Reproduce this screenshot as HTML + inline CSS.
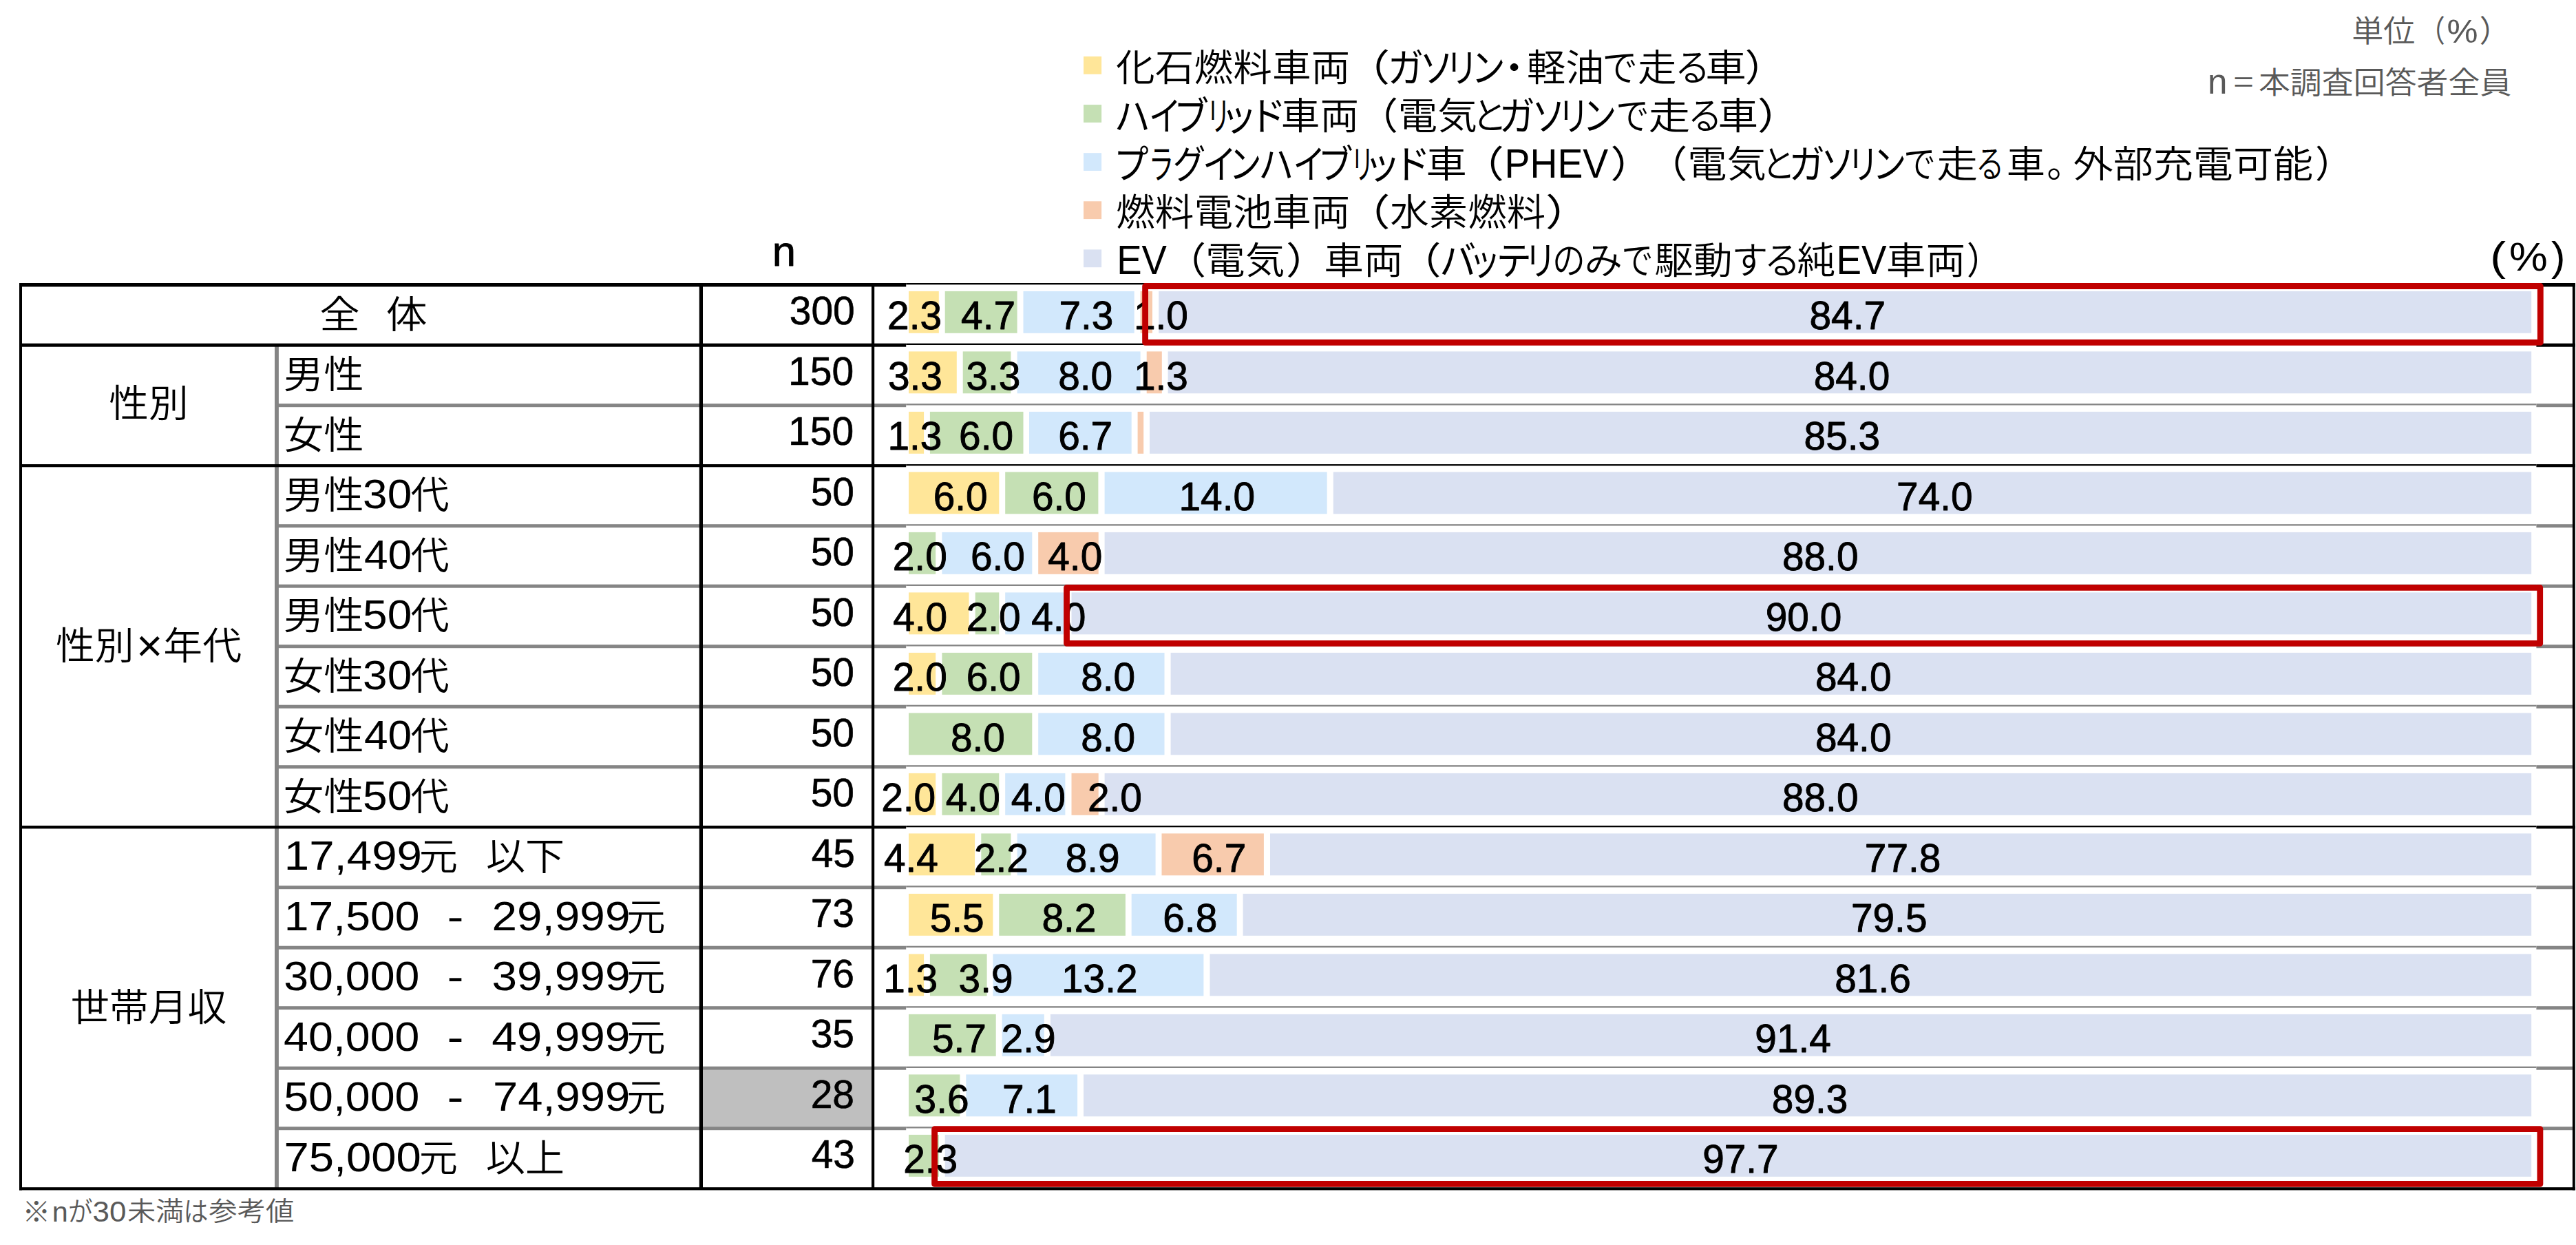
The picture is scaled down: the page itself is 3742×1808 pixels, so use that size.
<!DOCTYPE html>
<html lang="ja"><head><meta charset="utf-8"><title>chart</title>
<style>
html,body{margin:0;padding:0;background:#fff}
body{width:3742px;height:1808px;overflow:hidden}
svg{display:block}
text{font-family:"Liberation Sans","Noto Sans CJK JP",sans-serif;white-space:pre}
</style></head><body>
<svg width="3742" height="1808" viewBox="0 0 3742 1808">
<rect x="0" y="0" width="3742" height="1808" fill="#fff"/>
<g id="shapes">
<rect x="1020.60" y="1553.40" width="245.60" height="83.10" fill="#BFBFBF"/>
<rect x="1320.00" y="422.90" width="43.80" height="60.90" fill="#FFE699"/>
<rect x="1372.70" y="422.90" width="104.90" height="60.90" fill="#C5E0B4"/>
<rect x="1486.50" y="422.90" width="161.20" height="60.90" fill="#D2E8FC"/>
<rect x="1656.60" y="422.90" width="17.40" height="60.90" fill="#F8CBAD"/>
<rect x="1683.20" y="422.90" width="1994.00" height="60.90" fill="#DAE1F2"/>
<rect x="1320.00" y="510.40" width="69.80" height="60.90" fill="#FFE699"/>
<rect x="1398.70" y="510.40" width="69.70" height="60.90" fill="#C5E0B4"/>
<rect x="1477.60" y="510.40" width="179.00" height="60.90" fill="#D2E8FC"/>
<rect x="1665.70" y="510.40" width="22.10" height="60.90" fill="#F8CBAD"/>
<rect x="1696.60" y="510.40" width="1980.60" height="60.90" fill="#DAE1F2"/>
<rect x="1320.00" y="597.90" width="22.10" height="60.90" fill="#FFE699"/>
<rect x="1350.90" y="597.90" width="135.60" height="60.90" fill="#C5E0B4"/>
<rect x="1495.00" y="597.90" width="148.70" height="60.90" fill="#D2E8FC"/>
<rect x="1652.60" y="597.90" width="8.60" height="60.90" fill="#F8CBAD"/>
<rect x="1670.00" y="597.90" width="2007.20" height="60.90" fill="#DAE1F2"/>
<rect x="1320.00" y="685.40" width="131.30" height="60.90" fill="#FFE699"/>
<rect x="1460.20" y="685.40" width="135.20" height="60.90" fill="#C5E0B4"/>
<rect x="1604.60" y="685.40" width="323.10" height="60.90" fill="#D2E8FC"/>
<rect x="1936.80" y="685.40" width="1740.40" height="60.90" fill="#DAE1F2"/>
<rect x="1320.00" y="772.90" width="39.20" height="60.90" fill="#C5E0B4"/>
<rect x="1368.40" y="772.90" width="130.90" height="60.90" fill="#D2E8FC"/>
<rect x="1508.20" y="772.90" width="87.50" height="60.90" fill="#F8CBAD"/>
<rect x="1604.60" y="772.90" width="2072.60" height="60.90" fill="#DAE1F2"/>
<rect x="1320.00" y="860.40" width="87.50" height="60.90" fill="#FFE699"/>
<rect x="1416.70" y="860.40" width="34.60" height="60.90" fill="#C5E0B4"/>
<rect x="1460.20" y="860.40" width="87.20" height="60.90" fill="#D2E8FC"/>
<rect x="1556.50" y="860.40" width="2120.70" height="60.90" fill="#DAE1F2"/>
<rect x="1320.00" y="947.90" width="39.20" height="60.90" fill="#FFE699"/>
<rect x="1368.40" y="947.90" width="130.90" height="60.90" fill="#C5E0B4"/>
<rect x="1508.20" y="947.90" width="183.30" height="60.90" fill="#D2E8FC"/>
<rect x="1700.60" y="947.90" width="1976.60" height="60.90" fill="#DAE1F2"/>
<rect x="1320.00" y="1035.40" width="179.30" height="60.90" fill="#C5E0B4"/>
<rect x="1508.20" y="1035.40" width="183.30" height="60.90" fill="#D2E8FC"/>
<rect x="1700.60" y="1035.40" width="1976.60" height="60.90" fill="#DAE1F2"/>
<rect x="1320.00" y="1122.90" width="39.20" height="60.90" fill="#FFE699"/>
<rect x="1368.40" y="1122.90" width="82.90" height="60.90" fill="#C5E0B4"/>
<rect x="1460.20" y="1122.90" width="87.20" height="60.90" fill="#D2E8FC"/>
<rect x="1556.50" y="1122.90" width="39.20" height="60.90" fill="#F8CBAD"/>
<rect x="1604.60" y="1122.90" width="2072.60" height="60.90" fill="#DAE1F2"/>
<rect x="1320.00" y="1210.40" width="96.10" height="60.90" fill="#FFE699"/>
<rect x="1425.30" y="1210.40" width="43.10" height="60.90" fill="#C5E0B4"/>
<rect x="1477.60" y="1210.40" width="201.00" height="60.90" fill="#D2E8FC"/>
<rect x="1687.50" y="1210.40" width="148.40" height="60.90" fill="#F8CBAD"/>
<rect x="1845.00" y="1210.40" width="1832.20" height="60.90" fill="#DAE1F2"/>
<rect x="1320.00" y="1297.90" width="122.40" height="60.90" fill="#FFE699"/>
<rect x="1451.30" y="1297.90" width="183.60" height="60.90" fill="#C5E0B4"/>
<rect x="1643.70" y="1297.90" width="153.00" height="60.90" fill="#D2E8FC"/>
<rect x="1805.60" y="1297.90" width="1871.60" height="60.90" fill="#DAE1F2"/>
<rect x="1320.00" y="1385.40" width="22.10" height="60.90" fill="#FFE699"/>
<rect x="1350.90" y="1385.40" width="82.70" height="60.90" fill="#C5E0B4"/>
<rect x="1442.40" y="1385.40" width="306.00" height="60.90" fill="#D2E8FC"/>
<rect x="1757.50" y="1385.40" width="1919.70" height="60.90" fill="#DAE1F2"/>
<rect x="1320.00" y="1472.90" width="126.70" height="60.90" fill="#C5E0B4"/>
<rect x="1455.60" y="1472.90" width="61.20" height="60.90" fill="#D2E8FC"/>
<rect x="1525.90" y="1472.90" width="2151.30" height="60.90" fill="#DAE1F2"/>
<rect x="1320.00" y="1560.40" width="74.40" height="60.90" fill="#C5E0B4"/>
<rect x="1403.30" y="1560.40" width="161.80" height="60.90" fill="#D2E8FC"/>
<rect x="1574.00" y="1560.40" width="2103.20" height="60.90" fill="#DAE1F2"/>
<rect x="1320.00" y="1647.90" width="43.90" height="60.90" fill="#C5E0B4"/>
<rect x="1372.70" y="1647.90" width="2304.50" height="60.90" fill="#DAE1F2"/>
<rect x="399.00" y="586.20" width="917.20" height="5.00" fill="#858585"/>
<rect x="1316.20" y="586.20" width="2368.20" height="2.30" fill="#858585"/>
<rect x="3684.40" y="586.20" width="52.50" height="5.00" fill="#858585"/>
<rect x="399.00" y="761.20" width="917.20" height="5.00" fill="#858585"/>
<rect x="1316.20" y="761.20" width="2368.20" height="2.30" fill="#858585"/>
<rect x="3684.40" y="761.20" width="52.50" height="5.00" fill="#858585"/>
<rect x="399.00" y="848.70" width="917.20" height="5.00" fill="#858585"/>
<rect x="1316.20" y="848.70" width="2368.20" height="2.30" fill="#858585"/>
<rect x="3684.40" y="848.70" width="52.50" height="5.00" fill="#858585"/>
<rect x="399.00" y="936.20" width="917.20" height="5.00" fill="#858585"/>
<rect x="1316.20" y="936.20" width="2368.20" height="2.30" fill="#858585"/>
<rect x="3684.40" y="936.20" width="52.50" height="5.00" fill="#858585"/>
<rect x="399.00" y="1023.70" width="917.20" height="5.00" fill="#858585"/>
<rect x="1316.20" y="1023.70" width="2368.20" height="2.30" fill="#858585"/>
<rect x="3684.40" y="1023.70" width="52.50" height="5.00" fill="#858585"/>
<rect x="399.00" y="1111.20" width="917.20" height="5.00" fill="#858585"/>
<rect x="1316.20" y="1111.20" width="2368.20" height="2.30" fill="#858585"/>
<rect x="3684.40" y="1111.20" width="52.50" height="5.00" fill="#858585"/>
<rect x="399.00" y="1286.20" width="917.20" height="5.00" fill="#858585"/>
<rect x="1316.20" y="1286.20" width="2368.20" height="2.30" fill="#858585"/>
<rect x="3684.40" y="1286.20" width="52.50" height="5.00" fill="#858585"/>
<rect x="399.00" y="1373.70" width="917.20" height="5.00" fill="#858585"/>
<rect x="1316.20" y="1373.70" width="2368.20" height="2.30" fill="#858585"/>
<rect x="3684.40" y="1373.70" width="52.50" height="5.00" fill="#858585"/>
<rect x="399.00" y="1461.20" width="917.20" height="5.00" fill="#858585"/>
<rect x="1316.20" y="1461.20" width="2368.20" height="2.30" fill="#858585"/>
<rect x="3684.40" y="1461.20" width="52.50" height="5.00" fill="#858585"/>
<rect x="399.00" y="1548.70" width="917.20" height="5.00" fill="#858585"/>
<rect x="1316.20" y="1548.70" width="2368.20" height="2.30" fill="#858585"/>
<rect x="3684.40" y="1548.70" width="52.50" height="5.00" fill="#858585"/>
<rect x="399.00" y="1636.20" width="917.20" height="5.00" fill="#858585"/>
<rect x="1316.20" y="1636.20" width="2368.20" height="2.30" fill="#858585"/>
<rect x="3684.40" y="1636.20" width="52.50" height="5.00" fill="#858585"/>
<rect x="399.00" y="501.20" width="5.90" height="1225.00" fill="#858585"/>
<rect x="28.00" y="411.00" width="1288.20" height="5.40" fill="#000"/>
<rect x="1316.20" y="411.00" width="2368.20" height="2.30" fill="#000"/>
<rect x="3684.40" y="411.00" width="56.40" height="5.40" fill="#000"/>
<rect x="28.00" y="498.70" width="1288.20" height="5.00" fill="#000"/>
<rect x="1316.20" y="498.70" width="2368.20" height="2.30" fill="#000"/>
<rect x="3684.40" y="498.70" width="56.40" height="5.00" fill="#000"/>
<rect x="28.00" y="674.10" width="1288.20" height="4.20" fill="#000"/>
<rect x="1316.20" y="674.10" width="2368.20" height="2.30" fill="#000"/>
<rect x="3684.40" y="674.10" width="56.40" height="4.20" fill="#000"/>
<rect x="28.00" y="1199.00" width="1288.20" height="4.40" fill="#000"/>
<rect x="1316.20" y="1199.00" width="2368.20" height="2.30" fill="#000"/>
<rect x="3684.40" y="1199.00" width="56.40" height="4.40" fill="#000"/>
<rect x="28.00" y="1724.20" width="3712.80" height="4.20" fill="#000"/>
<rect x="28.00" y="411.10" width="4.00" height="1317.30" fill="#000"/>
<rect x="3736.90" y="411.10" width="3.90" height="1317.30" fill="#000"/>
<rect x="1015.80" y="413.70" width="5.20" height="1312.50" fill="#000"/>
<rect x="1266.00" y="413.70" width="4.20" height="1312.50" fill="#000"/>
<rect x="1574.00" y="82.00" width="26.10" height="25.80" fill="#FFE699"/>
<rect x="1574.00" y="152.10" width="26.10" height="25.80" fill="#C5E0B4"/>
<rect x="1574.00" y="222.20" width="26.10" height="25.80" fill="#D2E8FC"/>
<rect x="1574.00" y="292.30" width="26.10" height="25.80" fill="#F8CBAD"/>
<rect x="1574.00" y="362.40" width="26.10" height="25.80" fill="#DAE1F2"/>
</g>
<g id="texts" font-weight="350">
<text id="t0" x="1289.08" y="478.20" font-size="56.80" fill="#000" stroke="#000" stroke-width="0.90" stroke-linejoin="round">2.3</text>
<text id="t1" x="1396.08" y="478.20" font-size="56.80" fill="#000" stroke="#000" stroke-width="0.90" stroke-linejoin="round">4.7</text>
<text id="t2" x="1538.38" y="478.20" font-size="56.80" fill="#000" stroke="#000" stroke-width="0.90" stroke-linejoin="round">7.3</text>
<text id="t3" x="1647.00" y="478.20" font-size="56.80" fill="#000" stroke="#000" stroke-width="0.90" stroke-linejoin="round">1.0</text>
<text id="t4" x="2628.48" y="478.20" font-size="56.80" fill="#000" stroke="#000" stroke-width="0.90" stroke-linejoin="round">84.7</text>
<text id="t5" x="1289.88" y="565.70" font-size="56.80" fill="#000" stroke="#000" stroke-width="0.90" stroke-linejoin="round">3.3</text>
<text id="t6" x="1403.38" y="565.70" font-size="56.80" fill="#000" stroke="#000" stroke-width="0.90" stroke-linejoin="round">3.3</text>
<text id="t7" x="1537.18" y="565.70" font-size="56.80" fill="#000" stroke="#000" stroke-width="0.90" stroke-linejoin="round">8.0</text>
<text id="t8" x="1647.00" y="565.70" font-size="56.80" fill="#000" stroke="#000" stroke-width="0.90" stroke-linejoin="round">1.3</text>
<text id="t9" x="2634.68" y="565.70" font-size="56.80" fill="#000" stroke="#000" stroke-width="0.90" stroke-linejoin="round">84.0</text>
<text id="t10" x="1289.40" y="653.20" font-size="56.80" fill="#000" stroke="#000" stroke-width="0.90" stroke-linejoin="round">1.3</text>
<text id="t11" x="1393.08" y="653.20" font-size="56.80" fill="#000" stroke="#000" stroke-width="0.90" stroke-linejoin="round">6.0</text>
<text id="t12" x="1537.18" y="653.20" font-size="56.80" fill="#000" stroke="#000" stroke-width="0.90" stroke-linejoin="round">6.7</text>
<text id="t13" x="2620.58" y="653.20" font-size="56.80" fill="#000" stroke="#000" stroke-width="0.90" stroke-linejoin="round">85.3</text>
<text id="t14" x="1355.68" y="740.70" font-size="56.80" fill="#000" stroke="#000" stroke-width="0.90" stroke-linejoin="round">6.0</text>
<text id="t15" x="1498.88" y="740.70" font-size="56.80" fill="#000" stroke="#000" stroke-width="0.90" stroke-linejoin="round">6.0</text>
<text id="t16" x="1712.50" y="740.70" font-size="56.80" fill="#000" stroke="#000" stroke-width="0.90" stroke-linejoin="round">14.0</text>
<text id="t17" x="2755.08" y="740.70" font-size="56.80" fill="#000" stroke="#000" stroke-width="0.90" stroke-linejoin="round">74.0</text>
<text id="t18" x="1296.78" y="828.20" font-size="56.80" fill="#000" stroke="#000" stroke-width="0.90" stroke-linejoin="round">2.0</text>
<text id="t19" x="1409.88" y="828.20" font-size="56.80" fill="#000" stroke="#000" stroke-width="0.90" stroke-linejoin="round">6.0</text>
<text id="t20" x="1522.28" y="828.20" font-size="56.80" fill="#000" stroke="#000" stroke-width="0.90" stroke-linejoin="round">4.0</text>
<text id="t21" x="2588.95" y="828.20" font-size="56.80" fill="#000" stroke="#000" stroke-width="0.90" stroke-linejoin="round">88.0</text>
<text id="t22" x="1297.18" y="915.70" font-size="56.80" fill="#000" stroke="#000" stroke-width="0.90" stroke-linejoin="round">4.0</text>
<text id="t23" x="1403.68" y="915.70" font-size="56.80" fill="#000" stroke="#000" stroke-width="0.90" stroke-linejoin="round">2.0</text>
<text id="t24" x="1498.28" y="915.70" font-size="56.80" fill="#000" stroke="#000" stroke-width="0.90" stroke-linejoin="round">4.0</text>
<text id="t25" x="2564.75" y="915.70" font-size="56.80" fill="#000" stroke="#000" stroke-width="0.90" stroke-linejoin="round">90.0</text>
<text id="t26" x="1296.78" y="1003.20" font-size="56.80" fill="#000" stroke="#000" stroke-width="0.90" stroke-linejoin="round">2.0</text>
<text id="t27" x="1403.68" y="1003.20" font-size="56.80" fill="#000" stroke="#000" stroke-width="0.90" stroke-linejoin="round">6.0</text>
<text id="t28" x="1570.18" y="1003.20" font-size="56.80" fill="#000" stroke="#000" stroke-width="0.90" stroke-linejoin="round">8.0</text>
<text id="t29" x="2636.95" y="1003.20" font-size="56.80" fill="#000" stroke="#000" stroke-width="0.90" stroke-linejoin="round">84.0</text>
<text id="t30" x="1380.88" y="1090.70" font-size="56.80" fill="#000" stroke="#000" stroke-width="0.90" stroke-linejoin="round">8.0</text>
<text id="t31" x="1570.18" y="1090.70" font-size="56.80" fill="#000" stroke="#000" stroke-width="0.90" stroke-linejoin="round">8.0</text>
<text id="t32" x="2636.95" y="1090.70" font-size="56.80" fill="#000" stroke="#000" stroke-width="0.90" stroke-linejoin="round">84.0</text>
<text id="t33" x="1280.18" y="1178.20" font-size="56.80" fill="#000" stroke="#000" stroke-width="0.90" stroke-linejoin="round">2.0</text>
<text id="t34" x="1373.78" y="1178.20" font-size="56.80" fill="#000" stroke="#000" stroke-width="0.90" stroke-linejoin="round">4.0</text>
<text id="t35" x="1468.78" y="1178.20" font-size="56.80" fill="#000" stroke="#000" stroke-width="0.90" stroke-linejoin="round">4.0</text>
<text id="t36" x="1579.88" y="1178.20" font-size="56.80" fill="#000" stroke="#000" stroke-width="0.90" stroke-linejoin="round">2.0</text>
<text id="t37" x="2588.95" y="1178.20" font-size="56.80" fill="#000" stroke="#000" stroke-width="0.90" stroke-linejoin="round">88.0</text>
<text id="t38" x="1283.98" y="1265.70" font-size="56.80" fill="#000" stroke="#000" stroke-width="0.90" stroke-linejoin="round">4.4</text>
<text id="t39" x="1414.98" y="1265.70" font-size="56.80" fill="#000" stroke="#000" stroke-width="0.90" stroke-linejoin="round">2.2</text>
<text id="t40" x="1547.68" y="1265.70" font-size="56.80" fill="#000" stroke="#000" stroke-width="0.90" stroke-linejoin="round">8.9</text>
<text id="t41" x="1731.28" y="1265.70" font-size="56.80" fill="#000" stroke="#000" stroke-width="0.90" stroke-linejoin="round">6.7</text>
<text id="t42" x="2708.85" y="1265.70" font-size="56.80" fill="#000" stroke="#000" stroke-width="0.90" stroke-linejoin="round">77.8</text>
<text id="t43" x="1350.68" y="1353.20" font-size="56.80" fill="#000" stroke="#000" stroke-width="0.90" stroke-linejoin="round">5.5</text>
<text id="t44" x="1513.48" y="1353.20" font-size="56.80" fill="#000" stroke="#000" stroke-width="0.90" stroke-linejoin="round">8.2</text>
<text id="t45" x="1689.28" y="1353.20" font-size="56.80" fill="#000" stroke="#000" stroke-width="0.90" stroke-linejoin="round">6.8</text>
<text id="t46" x="2688.95" y="1353.20" font-size="56.80" fill="#000" stroke="#000" stroke-width="0.90" stroke-linejoin="round">79.5</text>
<text id="t47" x="1283.20" y="1440.70" font-size="56.80" fill="#000" stroke="#000" stroke-width="0.90" stroke-linejoin="round">1.3</text>
<text id="t48" x="1392.58" y="1440.70" font-size="56.80" fill="#000" stroke="#000" stroke-width="0.90" stroke-linejoin="round">3.9</text>
<text id="t49" x="1542.00" y="1440.70" font-size="56.80" fill="#000" stroke="#000" stroke-width="0.90" stroke-linejoin="round">13.2</text>
<text id="t50" x="2665.25" y="1440.70" font-size="56.80" fill="#000" stroke="#000" stroke-width="0.90" stroke-linejoin="round">81.6</text>
<text id="t51" x="1353.88" y="1528.20" font-size="56.80" fill="#000" stroke="#000" stroke-width="0.90" stroke-linejoin="round">5.7</text>
<text id="t52" x="1454.58" y="1528.20" font-size="56.80" fill="#000" stroke="#000" stroke-width="0.90" stroke-linejoin="round">2.9</text>
<text id="t53" x="2549.35" y="1528.20" font-size="56.80" fill="#000" stroke="#000" stroke-width="0.90" stroke-linejoin="round">91.4</text>
<text id="t54" x="1328.58" y="1615.70" font-size="56.80" fill="#000" stroke="#000" stroke-width="0.90" stroke-linejoin="round">3.6</text>
<text id="t55" x="1456.00" y="1615.70" font-size="56.80" fill="#000" stroke="#000" stroke-width="0.90" stroke-linejoin="round">7.1</text>
<text id="t56" x="2573.85" y="1615.70" font-size="56.80" fill="#000" stroke="#000" stroke-width="0.90" stroke-linejoin="round">89.3</text>
<text id="t57" x="1312.18" y="1703.20" font-size="56.80" fill="#000" stroke="#000" stroke-width="0.90" stroke-linejoin="round">2.3</text>
<text id="t58" x="2473.15" y="1703.20" font-size="56.80" fill="#000" stroke="#000" stroke-width="0.90" stroke-linejoin="round">97.7</text>
<text id="t59" x="1146.72" y="471.20" font-size="57.00" fill="#000" stroke="#000" stroke-width="0.60" stroke-linejoin="round">300</text>
<text id="t60" x="1145.02" y="558.70" font-size="57.00" fill="#000" stroke="#000" stroke-width="0.60" stroke-linejoin="round">150</text>
<text id="t61" x="1145.02" y="646.20" font-size="57.00" fill="#000" stroke="#000" stroke-width="0.60" stroke-linejoin="round">150</text>
<text id="t62" x="1177.63" y="733.70" font-size="57.00" fill="#000" stroke="#000" stroke-width="0.60" stroke-linejoin="round">50</text>
<text id="t63" x="1177.63" y="821.20" font-size="57.00" fill="#000" stroke="#000" stroke-width="0.60" stroke-linejoin="round">50</text>
<text id="t64" x="1177.63" y="908.70" font-size="57.00" fill="#000" stroke="#000" stroke-width="0.60" stroke-linejoin="round">50</text>
<text id="t65" x="1177.63" y="996.20" font-size="57.00" fill="#000" stroke="#000" stroke-width="0.60" stroke-linejoin="round">50</text>
<text id="t66" x="1177.63" y="1083.70" font-size="57.00" fill="#000" stroke="#000" stroke-width="0.60" stroke-linejoin="round">50</text>
<text id="t67" x="1177.63" y="1171.20" font-size="57.00" fill="#000" stroke="#000" stroke-width="0.60" stroke-linejoin="round">50</text>
<text id="t68" x="1178.63" y="1258.70" font-size="57.00" fill="#000" stroke="#000" stroke-width="0.60" stroke-linejoin="round">45</text>
<text id="t69" x="1177.63" y="1346.20" font-size="57.00" fill="#000" stroke="#000" stroke-width="0.60" stroke-linejoin="round">73</text>
<text id="t70" x="1177.63" y="1433.70" font-size="57.00" fill="#000" stroke="#000" stroke-width="0.60" stroke-linejoin="round">76</text>
<text id="t71" x="1177.63" y="1521.20" font-size="57.00" fill="#000" stroke="#000" stroke-width="0.60" stroke-linejoin="round">35</text>
<text id="t72" x="1177.63" y="1608.70" font-size="57.00" fill="#000" stroke="#000" stroke-width="0.60" stroke-linejoin="round">28</text>
<text id="t73" x="1178.63" y="1696.20" font-size="57.00" fill="#000" stroke="#000" stroke-width="0.60" stroke-linejoin="round">43</text>
<text id="t74" x="1121.86" y="386.00" font-size="61.00" fill="#000" stroke="#000" stroke-width="0.80" stroke-linejoin="round" textLength="34.22" lengthAdjust="spacingAndGlyphs">n</text>
<text><tspan id="t75" x="3617.32" y="392.60" font-size="59.50" fill="#000" textLength="22.81" lengthAdjust="spacingAndGlyphs">(</tspan><tspan id="t76" x="3645.09" y="392.80" font-size="58.00" fill="#000" textLength="55.80" lengthAdjust="spacingAndGlyphs">%</tspan><tspan id="t77" x="3705.99" y="392.60" font-size="59.50" fill="#000" textLength="20.44" lengthAdjust="spacingAndGlyphs">)</tspan></text>
<text><tspan id="t78" x="464.34" y="475.50" font-size="54.70" fill="#000" textLength="58.54" lengthAdjust="spacingAndGlyphs">全</tspan><tspan> </tspan><tspan id="t79" x="560.69" y="475.50" font-size="54.70" fill="#000" textLength="59.95" lengthAdjust="spacingAndGlyphs">体</tspan></text>
<text id="t80" x="411.88" y="563.00" font-size="54.70" fill="#000" textLength="116.98" lengthAdjust="spacingAndGlyphs">男性</text>
<text id="t81" x="411.88" y="650.50" font-size="54.70" fill="#000" textLength="116.98" lengthAdjust="spacingAndGlyphs">女性</text>
<text><tspan id="t82" x="411.88" y="738.00" font-size="54.70" fill="#000" textLength="116.98" lengthAdjust="spacingAndGlyphs">男性</tspan><tspan id="t83" x="527.04" y="738.30" font-size="58.50" fill="#000" textLength="71.20" lengthAdjust="spacingAndGlyphs">30</tspan><tspan id="t84" x="596.56" y="738.00" font-size="54.70" fill="#000" textLength="55.96" lengthAdjust="spacingAndGlyphs">代</tspan></text>
<text><tspan id="t85" x="411.88" y="825.50" font-size="54.70" fill="#000" textLength="116.98" lengthAdjust="spacingAndGlyphs">男性</tspan><tspan id="t86" x="529.03" y="825.80" font-size="58.50" fill="#000" textLength="69.13" lengthAdjust="spacingAndGlyphs">40</tspan><tspan id="t87" x="596.56" y="825.50" font-size="54.70" fill="#000" textLength="55.96" lengthAdjust="spacingAndGlyphs">代</tspan></text>
<text><tspan id="t88" x="411.88" y="913.00" font-size="54.70" fill="#000" textLength="116.98" lengthAdjust="spacingAndGlyphs">男性</tspan><tspan id="t89" x="527.04" y="913.30" font-size="58.50" fill="#000" textLength="71.20" lengthAdjust="spacingAndGlyphs">50</tspan><tspan id="t90" x="596.56" y="913.00" font-size="54.70" fill="#000" textLength="55.96" lengthAdjust="spacingAndGlyphs">代</tspan></text>
<text><tspan id="t91" x="411.88" y="1000.50" font-size="54.70" fill="#000" textLength="116.98" lengthAdjust="spacingAndGlyphs">女性</tspan><tspan id="t92" x="527.04" y="1000.80" font-size="58.50" fill="#000" textLength="71.20" lengthAdjust="spacingAndGlyphs">30</tspan><tspan id="t93" x="596.56" y="1000.50" font-size="54.70" fill="#000" textLength="55.96" lengthAdjust="spacingAndGlyphs">代</tspan></text>
<text><tspan id="t94" x="411.88" y="1088.00" font-size="54.70" fill="#000" textLength="116.98" lengthAdjust="spacingAndGlyphs">女性</tspan><tspan id="t95" x="529.03" y="1088.30" font-size="58.50" fill="#000" textLength="69.13" lengthAdjust="spacingAndGlyphs">40</tspan><tspan id="t96" x="596.56" y="1088.00" font-size="54.70" fill="#000" textLength="55.96" lengthAdjust="spacingAndGlyphs">代</tspan></text>
<text><tspan id="t97" x="411.88" y="1175.50" font-size="54.70" fill="#000" textLength="116.98" lengthAdjust="spacingAndGlyphs">女性</tspan><tspan id="t98" x="527.04" y="1175.80" font-size="58.50" fill="#000" textLength="71.20" lengthAdjust="spacingAndGlyphs">50</tspan><tspan id="t99" x="596.56" y="1175.50" font-size="54.70" fill="#000" textLength="55.96" lengthAdjust="spacingAndGlyphs">代</tspan></text>
<text><tspan id="t100" x="412.85" y="1263.30" font-size="58.50" fill="#000" textLength="200.08" lengthAdjust="spacingAndGlyphs">17,499</tspan><tspan id="t101" x="608.73" y="1263.00" font-size="54.70" fill="#000" textLength="56.12" lengthAdjust="spacingAndGlyphs">元</tspan><tspan> </tspan><tspan id="t102" x="705.90" y="1263.00" font-size="54.70" fill="#000" textLength="114.18" lengthAdjust="spacingAndGlyphs">以下</tspan></text>
<text><tspan id="t103" x="412.81" y="1350.80" font-size="58.50" fill="#000" textLength="196.65" lengthAdjust="spacingAndGlyphs">17,500</tspan><tspan> </tspan><tspan id="t104" x="649.54" y="1350.80" font-size="58.50" fill="#000" textLength="24.06" lengthAdjust="spacingAndGlyphs">-</tspan><tspan> </tspan><tspan id="t105" x="714.44" y="1350.80" font-size="58.50" fill="#000" textLength="201.01" lengthAdjust="spacingAndGlyphs">29,999</tspan><tspan id="t106" x="910.11" y="1350.50" font-size="54.70" fill="#000" textLength="56.68" lengthAdjust="spacingAndGlyphs">元</tspan></text>
<text><tspan id="t107" x="412.22" y="1438.30" font-size="58.50" fill="#000" textLength="197.23" lengthAdjust="spacingAndGlyphs">30,000</tspan><tspan> </tspan><tspan id="t108" x="649.54" y="1438.30" font-size="58.50" fill="#000" textLength="24.06" lengthAdjust="spacingAndGlyphs">-</tspan><tspan> </tspan><tspan id="t109" x="714.45" y="1438.30" font-size="58.50" fill="#000" textLength="201.01" lengthAdjust="spacingAndGlyphs">39,999</tspan><tspan id="t110" x="910.11" y="1438.00" font-size="54.70" fill="#000" textLength="56.68" lengthAdjust="spacingAndGlyphs">元</tspan></text>
<text><tspan id="t111" x="412.14" y="1525.80" font-size="58.50" fill="#000" textLength="197.34" lengthAdjust="spacingAndGlyphs">40,000</tspan><tspan> </tspan><tspan id="t112" x="649.54" y="1525.80" font-size="58.50" fill="#000" textLength="24.06" lengthAdjust="spacingAndGlyphs">-</tspan><tspan> </tspan><tspan id="t113" x="714.21" y="1525.80" font-size="58.50" fill="#000" textLength="201.18" lengthAdjust="spacingAndGlyphs">49,999</tspan><tspan id="t114" x="910.11" y="1525.50" font-size="54.70" fill="#000" textLength="56.68" lengthAdjust="spacingAndGlyphs">元</tspan></text>
<text><tspan id="t115" x="412.22" y="1613.30" font-size="58.50" fill="#000" textLength="197.23" lengthAdjust="spacingAndGlyphs">50,000</tspan><tspan> </tspan><tspan id="t116" x="649.54" y="1613.30" font-size="58.50" fill="#000" textLength="24.06" lengthAdjust="spacingAndGlyphs">-</tspan><tspan> </tspan><tspan id="t117" x="715.99" y="1613.30" font-size="58.50" fill="#000" textLength="199.33" lengthAdjust="spacingAndGlyphs">74,999</tspan><tspan id="t118" x="910.11" y="1613.00" font-size="54.70" fill="#000" textLength="56.68" lengthAdjust="spacingAndGlyphs">元</tspan></text>
<text><tspan id="t119" x="412.51" y="1700.80" font-size="58.50" fill="#000" textLength="199.32" lengthAdjust="spacingAndGlyphs">75,000</tspan><tspan id="t120" x="608.73" y="1700.50" font-size="54.70" fill="#000" textLength="56.12" lengthAdjust="spacingAndGlyphs">元</tspan><tspan> </tspan><tspan id="t121" x="705.88" y="1700.50" font-size="54.70" fill="#000" textLength="114.16" lengthAdjust="spacingAndGlyphs">以上</tspan></text>
<text id="t122" x="158.26" y="604.60" font-size="54.70" fill="#000" textLength="115.64" lengthAdjust="spacingAndGlyphs">性別</text>
<text><tspan id="t123" x="80.92" y="956.80" font-size="54.70" fill="#000" textLength="113.83" lengthAdjust="spacingAndGlyphs">性別</tspan><tspan id="t124" x="197.91" y="959.80" font-size="64.00" fill="#000" textLength="38.43" lengthAdjust="spacingAndGlyphs">×</tspan><tspan id="t125" x="237.39" y="956.80" font-size="54.70" fill="#000" textLength="113.62" lengthAdjust="spacingAndGlyphs">年代</tspan></text>
<text id="t126" x="102.44" y="1482.30" font-size="54.70" fill="#000" textLength="226.72" lengthAdjust="spacingAndGlyphs">世帯月収</text>
<text><tspan id="t127" x="1621.14" y="118.00" font-size="54.00" fill="#000" textLength="340.16" lengthAdjust="spacingAndGlyphs">化石燃料車両</tspan><tspan id="t128" x="1954.77" y="118.00" font-size="54.00" fill="#000" font-weight="400" textLength="64.39" lengthAdjust="spacingAndGlyphs">（</tspan><tspan id="t129" x="2016.05" y="119.00" font-size="57.24" fill="#000" font-weight="400" textLength="52.09" lengthAdjust="spacingAndGlyphs">ガ</tspan><tspan id="t130" x="2062.22" y="119.00" font-size="57.24" fill="#000" font-weight="400" textLength="49.32" lengthAdjust="spacingAndGlyphs">ソ</tspan><tspan id="t131" x="2099.61" y="119.00" font-size="57.24" fill="#000" font-weight="400" textLength="47.80" lengthAdjust="spacingAndGlyphs">リ</tspan><tspan id="t132" x="2137.58" y="119.00" font-size="57.24" fill="#000" font-weight="400" textLength="49.06" lengthAdjust="spacingAndGlyphs">ン</tspan><tspan id="t133" x="2171.41" y="118.00" font-size="54.00" fill="#000" textLength="56.17" lengthAdjust="spacingAndGlyphs">・</tspan><tspan id="t134" x="2218.10" y="118.00" font-size="54.00" fill="#000" textLength="112.46" lengthAdjust="spacingAndGlyphs">軽油</tspan><tspan id="t135" x="2327.61" y="118.00" font-size="54.00" fill="#000" textLength="51.50" lengthAdjust="spacingAndGlyphs">で</tspan><tspan id="t136" x="2379.01" y="118.00" font-size="54.00" fill="#000" textLength="56.61" lengthAdjust="spacingAndGlyphs">走</tspan><tspan id="t137" x="2432.75" y="118.00" font-size="54.00" fill="#000" textLength="51.59" lengthAdjust="spacingAndGlyphs">る</tspan><tspan id="t138" x="2477.31" y="118.00" font-size="54.00" fill="#000" textLength="59.58" lengthAdjust="spacingAndGlyphs">車</tspan><tspan id="t139" x="2534.66" y="118.00" font-size="54.00" fill="#000" font-weight="400" textLength="58.22" lengthAdjust="spacingAndGlyphs">）</tspan></text>
<text><tspan id="t140" x="1618.70" y="188.95" font-size="57.24" fill="#000" font-weight="400" textLength="52.01" lengthAdjust="spacingAndGlyphs">ハ</tspan><tspan id="t141" x="1668.84" y="188.95" font-size="57.24" fill="#000" font-weight="400" textLength="47.34" lengthAdjust="spacingAndGlyphs">イ</tspan><tspan id="t142" x="1705.01" y="188.95" font-size="57.24" fill="#000" font-weight="400" textLength="51.11" lengthAdjust="spacingAndGlyphs">ブ</tspan><tspan id="t143" x="1752.77" y="188.95" font-size="57.24" fill="#000" font-weight="400" textLength="34.54" lengthAdjust="spacingAndGlyphs">リ</tspan><tspan id="t144" x="1773.18" y="188.95" font-size="57.24" fill="#000" font-weight="400" textLength="53.04" lengthAdjust="spacingAndGlyphs">ッ</tspan><tspan id="t145" x="1814.60" y="188.95" font-size="57.24" fill="#000" font-weight="400" textLength="53.80" lengthAdjust="spacingAndGlyphs">ド</tspan><tspan id="t146" x="1860.84" y="187.95" font-size="54.00" fill="#000" textLength="113.18" lengthAdjust="spacingAndGlyphs">車両</tspan><tspan id="t147" x="1973.57" y="187.95" font-size="54.00" fill="#000" font-weight="400" textLength="57.46" lengthAdjust="spacingAndGlyphs">（</tspan><tspan id="t148" x="2030.62" y="187.95" font-size="54.00" fill="#000" textLength="115.38" lengthAdjust="spacingAndGlyphs">電気</tspan><tspan id="t149" x="2138.36" y="187.95" font-size="54.00" fill="#000" textLength="51.22" lengthAdjust="spacingAndGlyphs">と</tspan><tspan id="t150" x="2177.74" y="188.95" font-size="57.24" fill="#000" font-weight="400" textLength="52.09" lengthAdjust="spacingAndGlyphs">ガ</tspan><tspan id="t151" x="2224.97" y="188.95" font-size="57.24" fill="#000" font-weight="400" textLength="49.27" lengthAdjust="spacingAndGlyphs">ソ</tspan><tspan id="t152" x="2262.84" y="188.95" font-size="57.24" fill="#000" font-weight="400" textLength="45.81" lengthAdjust="spacingAndGlyphs">リ</tspan><tspan id="t153" x="2299.30" y="188.95" font-size="57.24" fill="#000" font-weight="400" textLength="49.02" lengthAdjust="spacingAndGlyphs">ン</tspan><tspan id="t154" x="2347.21" y="187.95" font-size="54.00" fill="#000" textLength="48.47" lengthAdjust="spacingAndGlyphs">で</tspan><tspan id="t155" x="2394.68" y="187.95" font-size="54.00" fill="#000" textLength="60.54" lengthAdjust="spacingAndGlyphs">走</tspan><tspan id="t156" x="2451.70" y="187.95" font-size="54.00" fill="#000" textLength="50.02" lengthAdjust="spacingAndGlyphs">る</tspan><tspan id="t157" x="2495.53" y="187.95" font-size="54.00" fill="#000" textLength="58.55" lengthAdjust="spacingAndGlyphs">車</tspan><tspan id="t158" x="2552.68" y="187.95" font-size="54.00" fill="#000" font-weight="400" textLength="62.97" lengthAdjust="spacingAndGlyphs">）</tspan></text>
<text><tspan id="t159" x="1617.75" y="258.90" font-size="57.24" fill="#000" font-weight="400" textLength="50.85" lengthAdjust="spacingAndGlyphs">プ</tspan><tspan id="t160" x="1668.84" y="258.90" font-size="57.24" fill="#000" font-weight="400" textLength="36.39" lengthAdjust="spacingAndGlyphs">ラ</tspan><tspan id="t161" x="1703.71" y="258.90" font-size="57.24" fill="#000" font-weight="400" textLength="47.46" lengthAdjust="spacingAndGlyphs">グ</tspan><tspan id="t162" x="1746.74" y="258.90" font-size="57.24" fill="#000" font-weight="400" textLength="49.64" lengthAdjust="spacingAndGlyphs">イ</tspan><tspan id="t163" x="1785.41" y="258.90" font-size="57.24" fill="#000" font-weight="400" textLength="47.06" lengthAdjust="spacingAndGlyphs">ン</tspan><tspan id="t164" x="1828.13" y="258.90" font-size="57.24" fill="#000" font-weight="400" textLength="50.92" lengthAdjust="spacingAndGlyphs">ハ</tspan><tspan id="t165" x="1878.28" y="258.90" font-size="57.24" fill="#000" font-weight="400" textLength="47.28" lengthAdjust="spacingAndGlyphs">イ</tspan><tspan id="t166" x="1914.43" y="258.90" font-size="57.24" fill="#000" font-weight="400" textLength="51.13" lengthAdjust="spacingAndGlyphs">ブ</tspan><tspan id="t167" x="1962.42" y="258.90" font-size="57.24" fill="#000" font-weight="400" textLength="33.18" lengthAdjust="spacingAndGlyphs">リ</tspan><tspan id="t168" x="1981.68" y="258.90" font-size="57.24" fill="#000" font-weight="400" textLength="52.96" lengthAdjust="spacingAndGlyphs">ッ</tspan><tspan id="t169" x="2024.13" y="258.90" font-size="57.24" fill="#000" font-weight="400" textLength="53.80" lengthAdjust="spacingAndGlyphs">ド</tspan><tspan id="t170" x="2071.49" y="257.90" font-size="54.00" fill="#000" textLength="59.27" lengthAdjust="spacingAndGlyphs">車</tspan><tspan id="t171" x="2122.19" y="257.90" font-size="54.00" fill="#000" font-weight="400" textLength="62.70" lengthAdjust="spacingAndGlyphs">（</tspan><tspan id="t172" x="2185.62" y="257.90" font-size="60.00" fill="#000" textLength="150.58" lengthAdjust="spacingAndGlyphs">PHEV</tspan><tspan id="t173" x="2339.21" y="257.90" font-size="54.00" fill="#000" font-weight="400" textLength="62.45" lengthAdjust="spacingAndGlyphs">）</tspan><tspan id="t174" x="2393.43" y="257.90" font-size="54.00" fill="#000" font-weight="400" textLength="57.73" lengthAdjust="spacingAndGlyphs">（</tspan><tspan id="t175" x="2451.25" y="257.90" font-size="54.00" fill="#000" textLength="114.54" lengthAdjust="spacingAndGlyphs">電気</tspan><tspan id="t176" x="2559.15" y="257.90" font-size="54.00" fill="#000" textLength="48.83" lengthAdjust="spacingAndGlyphs">と</tspan><tspan id="t177" x="2598.63" y="258.90" font-size="57.24" fill="#000" font-weight="400" textLength="52.09" lengthAdjust="spacingAndGlyphs">ガ</tspan><tspan id="t178" x="2645.10" y="258.90" font-size="57.24" fill="#000" font-weight="400" textLength="48.92" lengthAdjust="spacingAndGlyphs">ソ</tspan><tspan id="t179" x="2683.61" y="258.90" font-size="57.24" fill="#000" font-weight="400" textLength="45.76" lengthAdjust="spacingAndGlyphs">リ</tspan><tspan id="t180" x="2720.21" y="258.90" font-size="57.24" fill="#000" font-weight="400" textLength="49.04" lengthAdjust="spacingAndGlyphs">ン</tspan><tspan id="t181" x="2765.34" y="257.90" font-size="54.00" fill="#000" textLength="46.62" lengthAdjust="spacingAndGlyphs">で</tspan><tspan id="t182" x="2813.38" y="257.90" font-size="54.00" fill="#000" textLength="59.97" lengthAdjust="spacingAndGlyphs">走</tspan><tspan id="t183" x="2869.92" y="257.90" font-size="54.00" fill="#000" textLength="41.34" lengthAdjust="spacingAndGlyphs">る</tspan><tspan id="t184" x="2914.86" y="257.90" font-size="54.00" fill="#000" textLength="56.25" lengthAdjust="spacingAndGlyphs">車</tspan><tspan id="t185" x="2973.13" y="257.90" font-size="54.00" fill="#000" textLength="53.50" lengthAdjust="spacingAndGlyphs">。</tspan><tspan id="t186" x="3011.54" y="257.90" font-size="54.00" fill="#000" textLength="348.68" lengthAdjust="spacingAndGlyphs">外部充電可能</tspan><tspan id="t187" x="3362.95" y="257.90" font-size="54.00" fill="#000" font-weight="400" textLength="55.05" lengthAdjust="spacingAndGlyphs">）</tspan></text>
<text><tspan id="t188" x="1621.13" y="327.85" font-size="54.00" fill="#000" textLength="340.15" lengthAdjust="spacingAndGlyphs">燃料電池車両</tspan><tspan id="t189" x="1954.05" y="327.85" font-size="54.00" fill="#000" font-weight="400" textLength="65.61" lengthAdjust="spacingAndGlyphs">（</tspan><tspan id="t190" x="2019.34" y="327.85" font-size="54.00" fill="#000" textLength="225.82" lengthAdjust="spacingAndGlyphs">水素燃料</tspan><tspan id="t191" x="2244.66" y="327.85" font-size="54.00" fill="#000" font-weight="400" textLength="67.16" lengthAdjust="spacingAndGlyphs">）</tspan></text>
<text><tspan id="t192" x="1622.18" y="397.80" font-size="60.00" fill="#000" textLength="72.77" lengthAdjust="spacingAndGlyphs">EV</tspan><tspan id="t193" x="1694.67" y="397.80" font-size="54.00" fill="#000" font-weight="400" textLength="57.16" lengthAdjust="spacingAndGlyphs">（</tspan><tspan id="t194" x="1751.02" y="397.80" font-size="54.00" fill="#000" textLength="115.37" lengthAdjust="spacingAndGlyphs">電気</tspan><tspan id="t195" x="1867.90" y="397.80" font-size="54.00" fill="#000" font-weight="400" textLength="61.25" lengthAdjust="spacingAndGlyphs">）</tspan><tspan id="t196" x="1923.19" y="397.80" font-size="54.00" fill="#000" textLength="115.36" lengthAdjust="spacingAndGlyphs">車両</tspan><tspan id="t197" x="2033.02" y="397.80" font-size="54.00" fill="#000" font-weight="400" textLength="60.43" lengthAdjust="spacingAndGlyphs">（</tspan><tspan id="t198" x="2091.29" y="398.80" font-size="57.24" fill="#000" font-weight="400" textLength="53.04" lengthAdjust="spacingAndGlyphs">バ</tspan><tspan id="t199" x="2133.97" y="398.80" font-size="57.24" fill="#000" font-weight="400" textLength="45.86" lengthAdjust="spacingAndGlyphs">ッ</tspan><tspan id="t200" x="2173.70" y="398.80" font-size="57.24" fill="#000" font-weight="400" textLength="51.11" lengthAdjust="spacingAndGlyphs">テ</tspan><tspan id="t201" x="2214.15" y="398.80" font-size="57.24" fill="#000" font-weight="400" textLength="46.68" lengthAdjust="spacingAndGlyphs">リ</tspan><tspan id="t202" x="2255.08" y="397.80" font-size="54.00" fill="#000" textLength="47.84" lengthAdjust="spacingAndGlyphs">の</tspan><tspan id="t203" x="2301.49" y="397.80" font-size="54.00" fill="#000" textLength="55.31" lengthAdjust="spacingAndGlyphs">み</tspan><tspan id="t204" x="2355.62" y="397.80" font-size="54.00" fill="#000" textLength="46.17" lengthAdjust="spacingAndGlyphs">で</tspan><tspan id="t205" x="2403.22" y="397.80" font-size="54.00" fill="#000" textLength="113.40" lengthAdjust="spacingAndGlyphs">駆動</tspan><tspan id="t206" x="2515.47" y="397.80" font-size="54.00" fill="#000" textLength="52.84" lengthAdjust="spacingAndGlyphs">す</tspan><tspan id="t207" x="2562.38" y="397.80" font-size="54.00" fill="#000" textLength="52.98" lengthAdjust="spacingAndGlyphs">る</tspan><tspan id="t208" x="2610.56" y="397.80" font-size="54.00" fill="#000" textLength="55.79" lengthAdjust="spacingAndGlyphs">純</tspan><tspan id="t209" x="2667.46" y="397.80" font-size="60.00" fill="#000" textLength="73.08" lengthAdjust="spacingAndGlyphs">EV</tspan><tspan id="t210" x="2739.89" y="397.80" font-size="54.00" fill="#000" textLength="115.44" lengthAdjust="spacingAndGlyphs">車両</tspan><tspan id="t211" x="2857.00" y="397.80" font-size="54.00" fill="#000" font-weight="400" textLength="49.30" lengthAdjust="spacingAndGlyphs">）</tspan></text>
<text><tspan id="t212" x="3416.15" y="61.00" font-size="44.00" fill="#595959" textLength="92.22" lengthAdjust="spacingAndGlyphs">単位</tspan><tspan id="t213" x="3513.95" y="61.00" font-size="44.00" fill="#595959" font-weight="400" textLength="37.77" lengthAdjust="spacingAndGlyphs">（</tspan><tspan id="t214" x="3554.53" y="61.70" font-size="48.00" fill="#595959" textLength="45.03" lengthAdjust="spacingAndGlyphs">%</tspan><tspan id="t215" x="3601.74" y="61.00" font-size="44.00" fill="#595959" font-weight="400" textLength="44.24" lengthAdjust="spacingAndGlyphs">）</tspan></text>
<text><tspan id="t216" x="3207.09" y="135.60" font-size="52.00" fill="#595959" textLength="28.45" lengthAdjust="spacingAndGlyphs">n</tspan><tspan id="t217" x="3241.91" y="135.60" font-size="44.00" fill="#595959" textLength="34.09" lengthAdjust="spacingAndGlyphs">＝</tspan><tspan id="t218" x="3280.94" y="135.60" font-size="44.00" fill="#595959" textLength="367.48" lengthAdjust="spacingAndGlyphs">本調査回答者全員</tspan></text>
<text><tspan id="t219" x="32.58" y="1773.80" font-size="40.00" fill="#595959" textLength="40.66" lengthAdjust="spacingAndGlyphs">※</tspan><tspan id="t220" x="75.82" y="1773.80" font-size="40.00" fill="#595959" textLength="23.00" lengthAdjust="spacingAndGlyphs">n</tspan><tspan id="t221" x="99.12" y="1773.00" font-size="39.00" fill="#595959" textLength="35.70" lengthAdjust="spacingAndGlyphs">が</tspan><tspan id="t222" x="134.63" y="1773.80" font-size="43.00" fill="#595959" textLength="48.89" lengthAdjust="spacingAndGlyphs">30</tspan><tspan id="t223" x="184.95" y="1771.80" font-size="37.50" fill="#595959" textLength="82.23" lengthAdjust="spacingAndGlyphs">未満</tspan><tspan id="t224" x="266.60" y="1773.00" font-size="39.00" fill="#595959" textLength="35.86" lengthAdjust="spacingAndGlyphs">は</tspan><tspan id="t225" x="303.32" y="1771.80" font-size="37.50" fill="#595959" textLength="124.16" lengthAdjust="spacingAndGlyphs">参考値</tspan></text>
</g>
<g id="boxes" fill="none" stroke="#C00000" stroke-width="8.8" stroke-linejoin="round">
<rect x="1663.60" y="415.50" width="2026.70" height="81.90"/>
<rect x="1549.50" y="853.40" width="2140.20" height="81.00"/>
<rect x="1357.60" y="1639.70" width="2332.30" height="79.70"/>
</g>
</svg>
</body></html>
